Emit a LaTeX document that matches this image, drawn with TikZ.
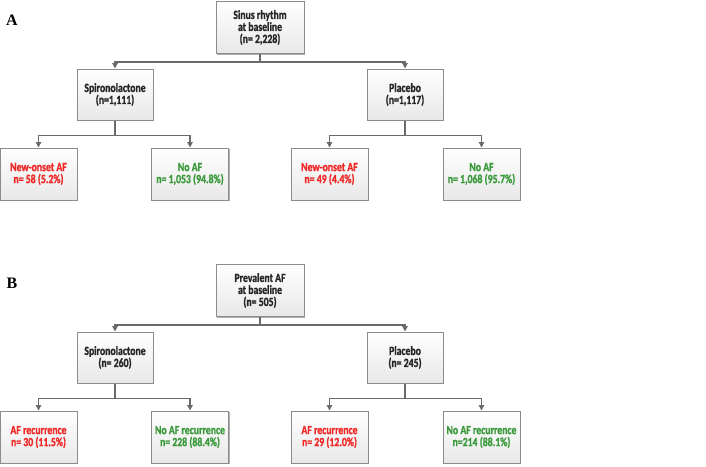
\documentclass[tikz,border=0pt]{standalone}
\usepackage{fontspec}
\setmainfont{Carlito}
\newfontfamily\boxfont[FakeStretch=0.78, FakeBold=1.2]{Carlito Bold}
\newfontfamily\labelfont{Liberation Serif}
\usetikzlibrary{arrows.meta,shadows}
\definecolor{boxline}{HTML}{8C8C8C}
\definecolor{conn}{HTML}{6A6A6A}
\definecolor{redtxt}{HTML}{F02828}
\definecolor{greentxt}{HTML}{3A9A3C}
\definecolor{darktxt}{HTML}{262626}
\tikzset{
  box/.style={draw=boxline, line width=1pt, top color=white, bottom color=black!9,
    minimum width=#1, minimum height=52pt, inner sep=1pt, align=center,
    font=\boxfont\fontsize{12.5}{12}\selectfont, text=darktxt,
    drop shadow={shadow xshift=1.2pt, shadow yshift=-1.2pt, fill=black!45, opacity=0.7}},
  box/.default=77pt,
  conn/.style={draw=conn, line width=1.2pt, -{Triangle[length=5.5pt,width=5.5pt]}},
  panellabel/.style={font=\labelfont\bfseries\fontsize{16}{18}\selectfont, inner sep=0pt}
}
\begin{document}
\begin{tikzpicture}[x=1pt,y=-1pt]
\useasboundingbox (0,0) rectangle (706,466);
% Panel A
\node[panellabel] (labA) at (12,20) {A};
\node[box=88pt] (rootA) at (260,27.5) {Sinus rhythm\\at baseline\\(n= 2,228)};
\node[box=76pt, minimum height=51pt] (spA) at (115,94.5) {Spironolactone\\(n=1,111)};
\node[box=76pt, minimum height=51pt] (plA) at (405,94.5) {Placebo\\(n=1,117)};
\node[box, text=redtxt] (sp1A) at (38.5,174) {New-onset AF\\n= 58 (5.2\%)};
\node[box, text=greentxt] (sp2A) at (190,174) {No AF\\n= 1,053 (94.8\%)};
\node[box, text=redtxt] (pl1A) at (329.5,174) {New-onset AF\\n= 49 (4.4\%)};
\node[box, text=greentxt] (pl2A) at (481.5,174) {No AF\\n= 1,068 (95.7\%)};
\draw[conn] (rootA.south) -- ++(0,8) -| (spA.north);
\draw[conn] (rootA.south) -- ++(0,8) -| (plA.north);
\draw[conn] (spA.south) -- ++(0,15) -| (sp1A.north);
\draw[conn] (spA.south) -- ++(0,15) -| (sp2A.north);
\draw[conn] (plA.south) -- ++(0,15) -| (pl1A.north);
\draw[conn] (plA.south) -- ++(0,15) -| (pl2A.north);
% Panel B
\begin{scope}[yshift=-263pt]
\node[panellabel] (labB) at (12,20) {B};
\node[box=88pt] (rootB) at (260,27.5) {Prevalent AF\\at baseline\\(n= 505)};
\node[box=76pt, minimum height=51pt] (spB) at (115,94.5) {Spironolactone\\(n= 260)};
\node[box=76pt, minimum height=51pt] (plB) at (405,94.5) {Placebo\\(n= 245)};
\node[box, text=redtxt] (sp1B) at (38.5,174) {AF recurrence\\n= 30 (11.5\%)};
\node[box, text=greentxt] (sp2B) at (190,174) {No AF recurrence\\n= 228 (88.4\%)};
\node[box, text=redtxt] (pl1B) at (329.5,174) {AF recurrence\\n= 29 (12.0\%)};
\node[box, text=greentxt] (pl2B) at (481.5,174) {No AF recurrence\\n=214 (88.1\%)};
\draw[conn] (rootB.south) -- ++(0,8) -| (spB.north);
\draw[conn] (rootB.south) -- ++(0,8) -| (plB.north);
\draw[conn] (spB.south) -- ++(0,15) -| (sp1B.north);
\draw[conn] (spB.south) -- ++(0,15) -| (sp2B.north);
\draw[conn] (plB.south) -- ++(0,15) -| (pl1B.north);
\draw[conn] (plB.south) -- ++(0,15) -| (pl2B.north);
\end{scope}
\end{tikzpicture}
\end{document}
